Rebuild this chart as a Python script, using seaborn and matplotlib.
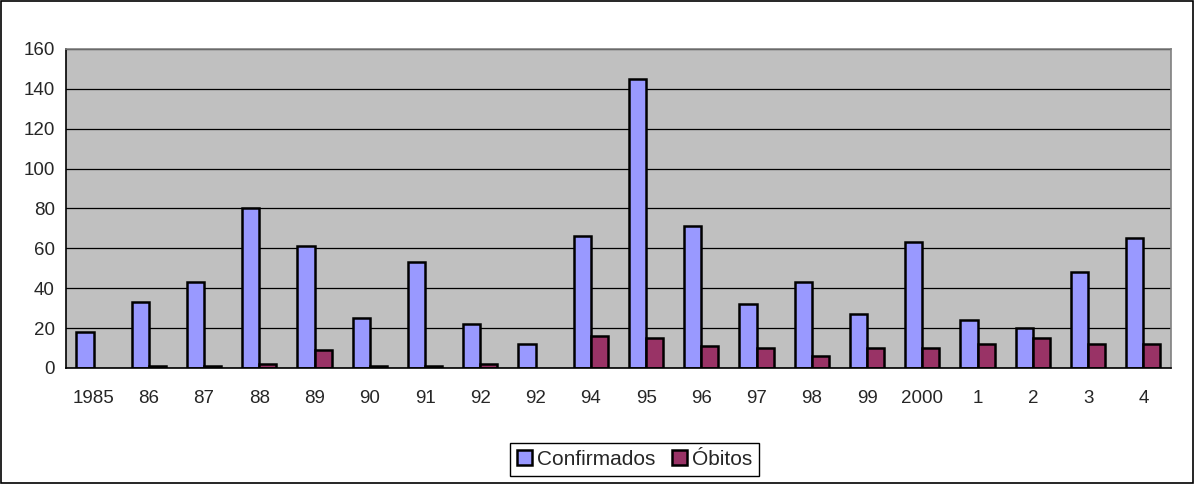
import matplotlib
matplotlib.use("Agg")
import matplotlib.pyplot as plt
from matplotlib.patches import Rectangle
import numpy as np
import pandas as pd
import seaborn as sns

# dados
anos = [str(a) for a in range(1985, 2005)]
rotulos = ["1985", "86", "87", "88", "89", "90", "91", "92", "92", "94",
           "95", "96", "97", "98", "99", "2000", "1", "2", "3", "4"]
confirmados = [18, 33, 43, 80, 61, 25, 53, 22, 12, 66,
               145, 71, 32, 43, 27, 63, 24, 20, 48, 65]
obitos = [0, 1, 1, 2, 9, 1, 1, 2, 0, 16,
          15, 11, 10, 6, 10, 10, 12, 15, 12, 12]

df = pd.DataFrame({"ano": anos * 2,
                   "valor": confirmados + obitos,
                   "serie": ["Confirmados"] * len(anos) + ["Óbitos"] * len(anos)})

sns.set_style("white")
plt.rcParams["font.family"] = ["Liberation Sans", "DejaVu Sans"]

fig = plt.figure(figsize=(11.95, 4.84), dpi=100)
ax = fig.add_axes([0.0552, 0.2397, 0.9247, 0.6591])

sns.barplot(data=df, x="ano", y="valor", hue="serie", order=anos,
            palette={"Confirmados": "#9999FF", "Óbitos": "#993366"},
            saturation=1, width=0.62, edgecolor="black", linewidth=1.8, ax=ax)

# barras de valor zero nao aparecem no original
for cont in ax.containers:
    for barra in cont:
        if barra.get_height() == 0:
            barra.set_visible(False)

ax.set_facecolor("#C0C0C0")
ax.set_ylim(0, 160)
ax.set_xlim(-0.5, len(anos) - 0.5)
ax.set_yticks(np.arange(0, 161, 20))
ax.yaxis.grid(True, color="black", linewidth=0.9)
ax.set_axisbelow(True)
ax.set_xlabel("")
ax.set_ylabel("")

ax.set_xticks(range(len(anos)))
ax.set_xticklabels(rotulos, fontsize=13.5)
ax.set_xticks(np.arange(-0.5, len(anos), 1), minor=True)
ax.tick_params(axis="x", which="major", length=0, pad=16)
ax.tick_params(axis="x", which="minor", length=6, width=1, color="black", direction="out")
ax.tick_params(axis="y", length=6, width=1, color="black", direction="out", labelsize=13.5, pad=2)

for lado in ["top", "right"]:
    ax.spines[lado].set_color("#808080")
    ax.spines[lado].set_linewidth(1.2)
for lado in ["left", "bottom"]:
    ax.spines[lado].set_color("black")
    ax.spines[lado].set_linewidth(1.2)

ax.legend(loc="center", bbox_to_anchor=(0.5310, 0.0507), bbox_transform=fig.transFigure,
          ncol=2, frameon=True, fancybox=False, edgecolor="black", framealpha=1,
          fontsize=15, handlelength=0.7, handleheight=0.7, handletextpad=0.25,
          columnspacing=0.8, borderpad=0.35, title=None)
ax.get_legend().get_frame().set_linewidth(1)

fig.patches.append(Rectangle((0.001, 0.002), 0.997, 0.996, transform=fig.transFigure,
                             fill=False, edgecolor="black", linewidth=1.2))

fig.savefig("out.png", dpi=100)
